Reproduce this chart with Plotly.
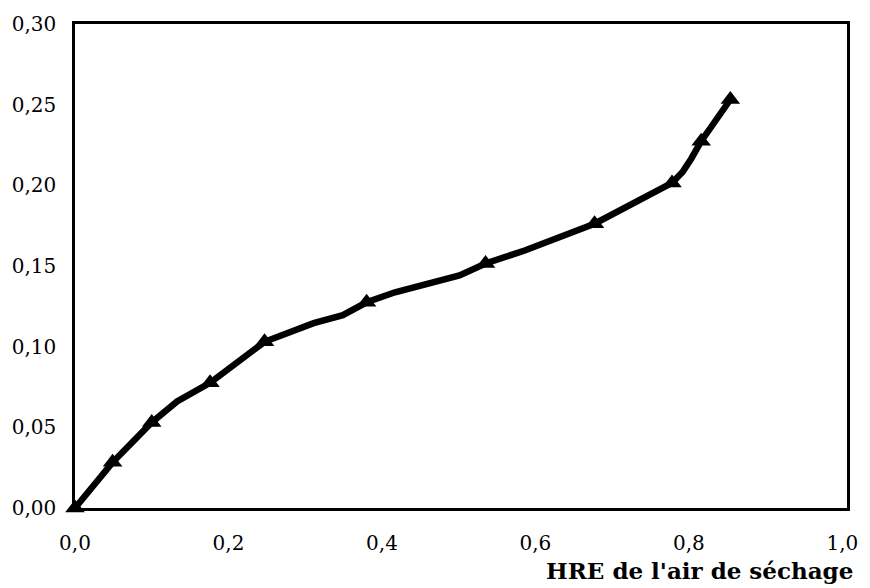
import plotly.graph_objects as go

# Curve vertices (HRE, teneur)
hre_line = [0.0, 0.049, 0.100, 0.133, 0.176, 0.227, 0.247, 0.311, 0.349, 0.380, 0.417,
            0.501, 0.535, 0.586, 0.677, 0.778, 0.792, 0.803, 0.816, 0.854]
val_line = [0.0, 0.0283, 0.053, 0.066, 0.0776, 0.095, 0.103, 0.1146, 0.1195, 0.1275, 0.1337,
            0.1442, 0.1516, 0.1596, 0.1762, 0.2015, 0.2085, 0.2165, 0.2274, 0.2532]

# Marker points
hre_pts = [0.0, 0.049, 0.100, 0.176, 0.247, 0.380, 0.535, 0.677, 0.778, 0.816, 0.854]
val_pts = [0.0, 0.0283, 0.053, 0.0776, 0.103, 0.1275, 0.1516, 0.1762, 0.2015, 0.2274, 0.2532]

x_ticks = [0.0, 0.2, 0.4, 0.6, 0.8, 1.0]
y_ticks = [0.0, 0.05, 0.10, 0.15, 0.20, 0.25, 0.30]

FONT = "DejaVu Serif"

fig = go.Figure()
fig.add_trace(go.Scatter(x=hre_line, y=val_line, mode="lines",
                         line=dict(color="black", width=6.5), cliponaxis=False,
                         showlegend=False, hoverinfo="skip"))
fig.add_trace(go.Scatter(x=hre_pts, y=val_pts, mode="markers",
                         marker=dict(symbol="triangle-up", size=17, color="black"),
                         cliponaxis=False, showlegend=False))

fig.update_layout(
    width=870, height=588,
    margin=dict(l=63, r=12, t=22, b=80),
    paper_bgcolor="white", plot_bgcolor="white",
    separators=", ",
    font=dict(family=FONT, size=20, color="black"),
    xaxis=dict(range=[0, 1.006], tickvals=x_ticks, tickformat=".1f",
               showgrid=False, zeroline=False, showline=True, mirror=True,
               linecolor="black", linewidth=2.5, ticks="", ticklabelstandoff=15,
               ticklabeloverflow="allow",
               tickfont=dict(family=FONT, size=20, color="black")),
    yaxis=dict(range=[0, 0.30], tickvals=y_ticks, tickformat=".2f",
               showgrid=False, zeroline=False, showline=True, mirror=True,
               linecolor="black", linewidth=2.5, ticks="", ticklabelstandoff=12,
               ticklabeloverflow="allow",
               tickfont=dict(family=FONT, size=20, color="black")),
    annotations=[dict(text="<b>HRE de l'air de séchage</b>", xref="paper", yref="paper",
                      x=1.0, y=0, xanchor="right", yanchor="middle", yshift=-62, xshift=8,
                      showarrow=False, font=dict(family=FONT, size=23, color="black"))],
)

fig.write_html("out.html")
